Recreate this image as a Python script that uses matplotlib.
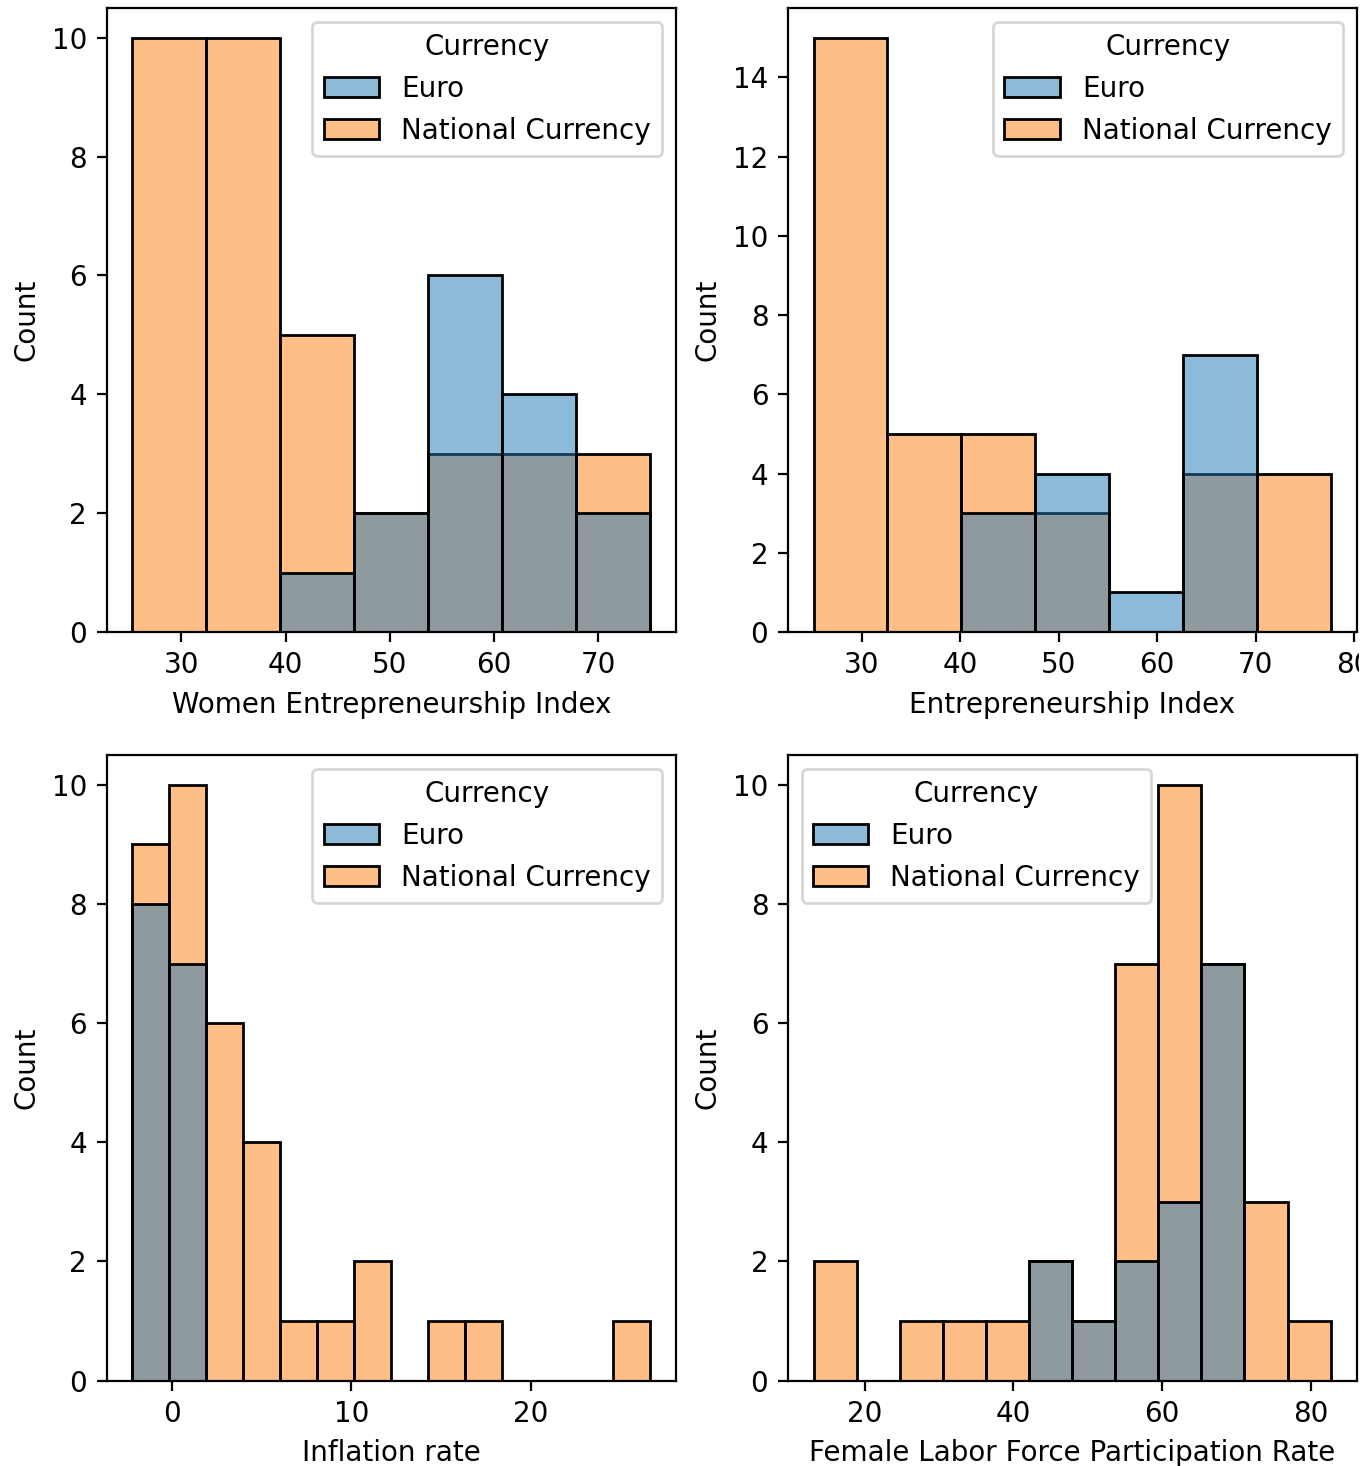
import numpy as np
import matplotlib
matplotlib.use("Agg")
import matplotlib.pyplot as plt
from matplotlib.patches import Patch, Rectangle
from matplotlib.colors import to_rgba

# ---- data ----
currencies = ["Euro", "National Currency"]

wei_edges = [25.3, 32.4, 39.5, 46.6, 53.7, 60.8, 67.9, 75.0]
wei_euro = [0, 0, 1, 2, 6, 4, 2]
wei_nat = [10, 10, 5, 2, 3, 3, 3]

ei_edges = [25.1, 32.6, 40.1, 47.6, 55.1, 62.6, 70.1, 77.6]
ei_euro = [0, 0, 3, 4, 1, 7, 0]
ei_nat = [15, 5, 5, 3, 0, 4, 4]

inf_edges = [-2.2, -0.14, 1.92, 3.98, 6.04, 8.1, 10.16, 12.22, 14.28, 16.34,
             18.4, 20.46, 22.52, 24.58, 26.64]
inf_euro = [8, 7, 0, 0, 0, 0, 0, 0, 0, 0, 0, 0, 0, 0]
inf_nat = [9, 10, 6, 4, 1, 1, 2, 0, 1, 1, 0, 0, 0, 1]

flf_edges = [13.1, 18.9, 24.7, 30.5, 36.3, 42.1, 47.9, 53.7, 59.5, 65.3,
             71.1, 76.9, 82.7]
flf_euro = [0, 0, 0, 0, 0, 2, 1, 2, 3, 7, 0, 0]
flf_nat = [2, 0, 1, 1, 1, 2, 1, 7, 10, 7, 3, 1]

panels = [
    ("Women Entrepreneurship Index", wei_edges, wei_euro, wei_nat, "upper right"),
    ("Entrepreneurship Index", ei_edges, ei_euro, ei_nat, "upper right"),
    ("Inflation rate", inf_edges, inf_euro, inf_nat, "upper right"),
    ("Female Labor Force Participation Rate", flf_edges, flf_euro, flf_nat, "upper left"),
]

colors = {"Euro": "#1f77b4", "National Currency": "#ff7f0e"}
alpha = 0.5

W, H = 1371, 1466
fig = plt.figure(figsize=(W / 200, H / 200), dpi=200)

# axes boxes in pixels: (left, top, right, bottom)
boxes = [
    (106.5, 8, 676, 632),
    (787.7, 8, 1356.5, 632),
    (106.5, 755, 676, 1380.5),
    (787.7, 755, 1356.5, 1380.5),
]

for (label, edges, euro, nat, loc), (l, t, r, b) in zip(panels, boxes):
    ax = fig.add_axes([l / W, (H - b) / H, (r - l) / W, (b - t) / H])
    e = np.array(edges)
    widths = np.diff(e)
    ax.bar(e[:-1], nat, width=widths, align="edge",
           color=to_rgba(colors["National Currency"], alpha),
           edgecolor="black", linewidth=1.0)
    ax.bar(e[:-1], euro, width=widths, align="edge",
           color=to_rgba(colors["Euro"], alpha),
           edgecolor="black", linewidth=1.0)
    ax.set_xlabel(label)
    ax.set_ylabel("Count")
    handles = [Patch(facecolor=to_rgba(colors[c], alpha),
                     edgecolor="black", linewidth=1.0, label=c) for c in currencies]
    ax.legend(handles=handles, title="Currency", loc=loc)

# the reference image is cropped just right of the right-hand axes
fig.patches.append(Rectangle((1358.5 / W, 0), 1, 1, transform=fig.transFigure,
                             facecolor="white", edgecolor="none", zorder=100))

fig.savefig("out.png", dpi=200)
